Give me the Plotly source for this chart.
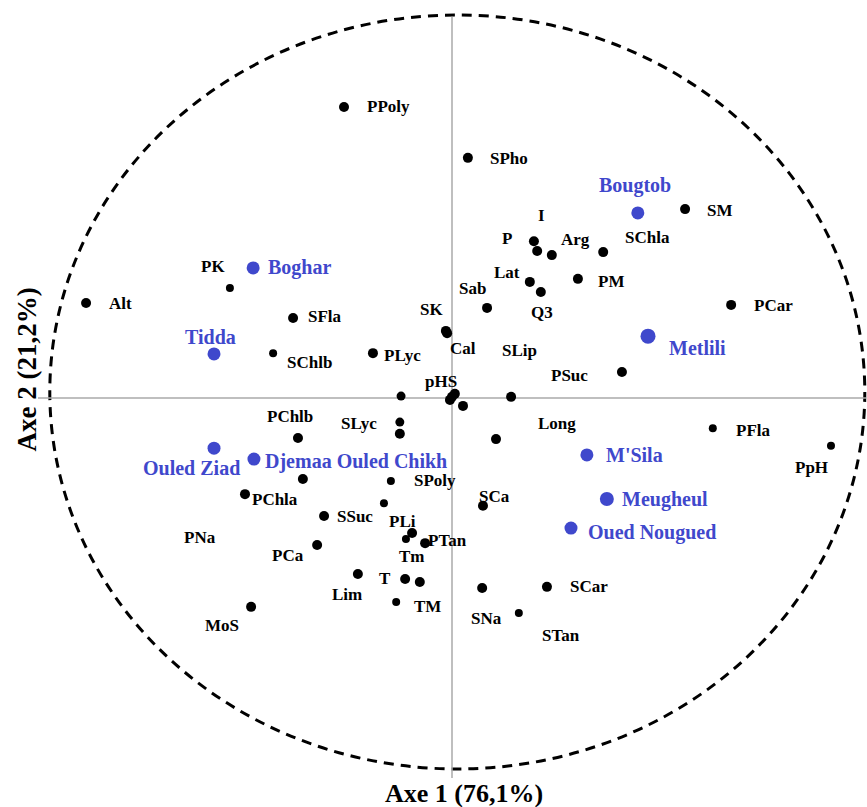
import plotly.graph_objects as go

# Variables (black): name, coordinates on axes 1 and 2
var_names = ["PPoly", "SPho", "SM", "I", "P", "Arg", "SChla", "Lat", "Q3", "PM",
             "Sab", "PCar", "SK", "Cal", "PK", "Alt", "SFla", "SChlb", "PLyc", "PSuc",
             "SLip", "pHS", "", "", "", "", "SLyc", "", "Long", "PChlb",
             "PNa", "PChla", "SPoly", "PLi", "SSuc", "PCa", "", "Tm", "PTan", "Lim",
             "T", "", "TM", "MoS", "PFla", "PpH", "SCa", "SNa", "SCar", "STan"]
var_x = [-0.265, 0.039, 0.572, 0.201, 0.209, 0.245, 0.371, 0.191, 0.218, 0.309,
         0.086, 0.685, -0.015, -0.012, -0.545, -0.898, -0.390, -0.439, -0.194, 0.417,
         0.145, 0.000, 0.007, -0.005, 0.027, -0.125, -0.128, -0.128, 0.108, -0.378,
         -0.366, -0.508, -0.150, -0.167, -0.314, -0.331, -0.098, -0.113, -0.066, -0.231,
         -0.115, -0.079, -0.137, -0.493, 0.640, 0.930, 0.076, 0.074, 0.233, 0.164]
var_y = [0.772, 0.637, 0.501, 0.416, 0.390, 0.379, 0.387, 0.308, 0.281, 0.316,
         0.239, 0.247, 0.178, 0.172, 0.292, 0.252, 0.212, 0.119, 0.119, 0.069,
         0.003, 0.003, 0.011, -0.005, -0.021, 0.005, -0.064, -0.095, -0.109, -0.106,
         -0.215, -0.255, -0.220, -0.279, -0.313, -0.390, -0.358, -0.374, -0.385, -0.467,
         -0.480, -0.488, -0.541, -0.554, -0.080, -0.127, -0.286, -0.504, -0.501, -0.570]

# Sites (blue)
site_names = ["Bougtob", "Boghar", "Tidda", "Metlili", "Ouled Ziad",
              "Djemaa Ouled Chikh", "M'Sila", "Meugheul", "Oued Nougued"]
site_x = [0.456, -0.488, -0.584, 0.481, -0.584, -0.486, 0.331, 0.380, 0.292]
site_y = [0.491, 0.345, 0.117, 0.164, -0.133, -0.162, -0.151, -0.268, -0.345]

axis_titles = ["Axe 1 (76,1%)", "Axe 2 (21,2%)"]

# Label placement (pixel offsets from the marker, anchor)
var_label_pos = [(21, 0, "left"), (20, 1, "left"), (20, 1, "left"), (8, -26, "center"),
                 (-30, -12, "center"), (24, -16, "center"), (44, -15, "center"),
                 (-23, -9, "center"), (1, 20, "center"), (18, 3, "left"),
                 (-15, -19, "center"), (21, 1, "left"), (-14, -21, "center"),
                 (16, 15, "center"), (-17, -21, "center"), (21, 1, "left"),
                 (13, -2, "left"), (12, 9, "left"), (9, 2, "left"), (-52, 4, "center"),
                 (8, -46, "center"), (-11, -15, "center"), (0, 0, "center"), (0, 0, "center"),
                 (0, 0, "center"), (0, 0, "center"), (-41, 1, "center"), (0, 0, "center"),
                 (61, -16, "center"), (-8, -21, "center"),
                 (-103, 58, "center"), (5, 5, "left"), (21, 0, "left"), (19, 18, "center"),
                 (11, 0, "left"), (-29, 10, "center"), (0, 0, "center"), (6, 18, "center"),
                 (22, -3, "center"), (-11, 20, "center"),
                 (-20, 0, "center"), (0, 0, "center"), (31, 5, "center"), (-29, 19, "center"),
                 (21, 2, "left"), (-19, 22, "center"), (12, -9, "center"), (4, 30, "center"),
                 (21, 0, "left"), (42, 23, "center")]
var_sizes = [10, 10, 10, 10, 10, 10, 10, 10, 10, 10,
             10, 10, 10, 10, 8, 10, 10, 8, 10, 10,
             10, 10, 10, 10, 10, 9, 9, 10, 10, 10,
             10, 10, 8, 8, 10, 10, 10, 8, 10, 10,
             10, 10, 8, 10, 8, 8, 10, 10, 10, 8]
site_label_pos = [(-3, -27, "center"), (13, 0, "left"), (-4, -17, "center"), (19, 12, "left"),
                  (-23, 20, "center"), (9, 2, "left"), (17, 0, "left"), (13, 0, "left"),
                  (15, 4, "left")]
site_sizes = [13, 13, 13, 15, 13, 13, 13, 14, 13]

BLUE = "#3F48CC"
FONT = "Liberation Serif"

fig = go.Figure()

fig.add_trace(go.Scatter(x=var_x, y=var_y, mode="markers",
                         marker=dict(color="black", size=var_sizes, opacity=1, line=dict(width=0)),
                         hoverinfo="text", text=var_names, showlegend=False))
fig.add_trace(go.Scatter(x=site_x, y=site_y, mode="markers",
                         marker=dict(color=BLUE, size=site_sizes, opacity=1, line=dict(width=0)),
                         hoverinfo="text", text=site_names, showlegend=False))

annotations = []
for name, x, y, (dx, dy, anchor) in zip(var_names, var_x, var_y, var_label_pos):
    if not name:
        continue
    annotations.append(dict(x=x, y=y, xref="x", yref="y", text=name, showarrow=False,
                            xshift=dx, yshift=-dy, xanchor=anchor, yanchor="middle",
                            font=dict(family=FONT, size=17, color="black", weight="bold")))
for name, x, y, (dx, dy, anchor) in zip(site_names, site_x, site_y, site_label_pos):
    annotations.append(dict(x=x, y=y, xref="x", yref="y", text=name, showarrow=False,
                            xshift=dx, yshift=-dy, xanchor=anchor, yanchor="middle",
                            font=dict(family=FONT, size=20, color=BLUE, weight="bold")))

# Axis titles
annotations.append(dict(x=0.535, y=0.0, xref="paper", yref="paper", text=axis_titles[0],
                        showarrow=False, xanchor="center", yanchor="bottom", yshift=-3,
                        font=dict(family=FONT, size=26, color="black", weight="bold")))
annotations.append(dict(x=0.031, y=0.542, xref="paper", yref="paper", text=axis_titles[1],
                        showarrow=False, xanchor="center", yanchor="middle", textangle=-90,
                        font=dict(family=FONT, size=27, color="black", weight="bold")))

shapes = [
    # correlation circle
    dict(type="circle", xref="x", yref="y", x0=-0.987, x1=1.013, y0=-0.984, y1=1.016,
         line=dict(color="black", width=3, dash="10px,7px"), layer="below"),
    # axis lines through the origin
    dict(type="line", xref="x", yref="y", x0=-1.016, x1=1.016, y0=0, y1=0,
         line=dict(color="#aaaaaa", width=1.5), layer="below"),
    dict(type="line", xref="x", yref="y", x0=0, x1=0, y0=-1.008, y1=1.011,
         line=dict(color="#aaaaaa", width=1.5), layer="below"),
]

fig.update_layout(
    width=867, height=807,
    margin=dict(l=0, r=0, t=0, b=0),
    paper_bgcolor="white", plot_bgcolor="white",
    xaxis=dict(range=[-1.1092, 1.0184], visible=False, fixedrange=True),
    yaxis=dict(range=[-1.0849, 1.0557], visible=False, fixedrange=True),
    annotations=annotations, shapes=shapes,
)

fig.write_html("out.html")
